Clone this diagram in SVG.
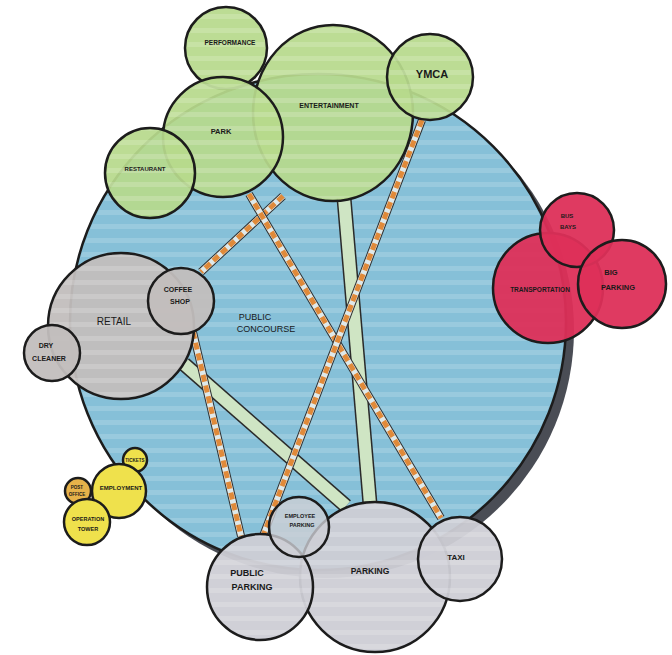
<svg xmlns="http://www.w3.org/2000/svg" width="672" height="655" viewBox="0 0 672 655">
<defs>
<pattern id="stripes" patternUnits="userSpaceOnUse" width="40" height="14">
<rect x="0" y="0" width="40" height="5" fill="#ffffff" fill-opacity="0.16"/>
</pattern>
</defs>
<style>
.n{stroke:#1c1c1c;stroke-width:2.5}
.blue{fill:#86c0d8}
.green{fill:#b7d98c;fill-opacity:0.93}
.red{fill:#dd2f58;fill-opacity:0.95}
.warm{fill:#c2bebd;fill-opacity:0.95}
.cool{fill:#cdced5;fill-opacity:0.95}
.yel{fill:#efe14c}
.st{fill:url(#stripes);stroke:none}
text{font-family:"Liberation Sans",Arial,sans-serif;fill:#1a1a1a;text-anchor:middle;font-weight:bold}
.band{stroke:#2a2a2a;stroke-width:15;fill:none}
.bandin{stroke:#cfe5c4;stroke-width:12;fill:none}
.dout{stroke:#2f2f2f;stroke-width:8;fill:none}
.din{stroke:#dfe9ea;stroke-width:6;fill:none}
.dash{stroke:#e08a3a;stroke-width:5;stroke-dasharray:7 4;fill:none}
</style>
<rect width="672" height="655" fill="#ffffff"/>

<g id="public-concourse">
<circle cx="326" cy="330" r="248" fill="#4a4d55"/>
<circle cx="318" cy="322" r="248" class="n blue"/>
<circle cx="318" cy="322" r="246" class="st"/>
<text x="255" y="320" font-size="9" font-weight="normal" style="font-weight:normal">PUBLIC</text>
<text x="266" y="332" font-size="9" style="font-weight:normal">CONCOURSE</text>
</g>

<g id="connectors">
<line x1="344" y1="198" x2="370" y2="504" class="band"/>
<line x1="344" y1="198" x2="370" y2="504" class="bandin"/>
<line x1="184" y1="364" x2="346" y2="506" class="band"/>
<line x1="184" y1="364" x2="346" y2="506" class="bandin"/>
<g>
<line x1="283" y1="196" x2="201" y2="272" class="dout"/>
<line x1="283" y1="196" x2="201" y2="272" class="din"/>
<line x1="283" y1="196" x2="201" y2="272" class="dash"/>
</g>
<g>
<line x1="249" y1="194" x2="441" y2="518" class="dout"/>
<line x1="249" y1="194" x2="441" y2="518" class="din"/>
<line x1="249" y1="194" x2="441" y2="518" class="dash"/>
</g>
<g>
<line x1="422" y1="120" x2="263" y2="536" class="dout"/>
<line x1="422" y1="120" x2="263" y2="536" class="din"/>
<line x1="422" y1="120" x2="263" y2="536" class="dash"/>
</g>
<g>
<line x1="193" y1="332" x2="241" y2="536" class="dout"/>
<line x1="193" y1="332" x2="241" y2="536" class="din"/>
<line x1="193" y1="332" x2="241" y2="536" class="dash"/>
</g>
</g>

<g id="entertainment">
<ellipse cx="333" cy="113" rx="80" ry="88" class="n green"/>
<ellipse cx="333" cy="113" rx="78" ry="86" class="st"/>
<text x="329" y="108" font-size="7">ENTERTAINMENT</text>
</g>
<g id="performance">
<circle cx="226" cy="48" r="41" class="n green"/>
<circle cx="226" cy="48" r="39" class="st"/>
<text x="230" y="45" font-size="6.5">PERFORMANCE</text>
</g>
<g id="ymca">
<circle cx="430" cy="77" r="43" class="n green"/>
<circle cx="430" cy="77" r="41" class="st"/>
<text x="432" y="78" font-size="11">YMCA</text>
</g>
<g id="park">
<circle cx="223" cy="137" r="60" class="n green"/>
<circle cx="223" cy="137" r="58" class="st"/>
<text x="221" y="134" font-size="7.5">PARK</text>
</g>
<g id="restaurant">
<circle cx="150" cy="173" r="45" class="n green"/>
<circle cx="150" cy="173" r="43" class="st"/>
<text x="145" y="171" font-size="6">RESTAURANT</text>
</g>

<g id="transportation">
<circle cx="548" cy="288" r="55" class="n red"/>
<text x="540" y="292" font-size="6.5">TRANSPORTATION</text>
</g>
<g id="bus-bays">
<circle cx="577" cy="230" r="37" class="n red"/>
<text x="567" y="218" font-size="6">BUS</text>
<text x="568" y="229" font-size="6">BAYS</text>
</g>
<g id="big-parking">
<circle cx="622" cy="284" r="44" class="n red"/>
<text x="611" y="275" font-size="7.5">BIG</text>
<text x="618" y="290" font-size="7.5">PARKING</text>
</g>

<g id="retail">
<circle cx="121" cy="326" r="73" class="n warm"/>
<circle cx="121" cy="326" r="71" class="st"/>
<text x="114" y="325" font-size="10" style="font-weight:normal">RETAIL</text>
</g>
<g id="coffee-shop">
<circle cx="181" cy="301" r="33" class="n warm"/>
<text x="178" y="292" font-size="7">COFFEE</text>
<text x="180" y="304" font-size="7">SHOP</text>
</g>
<g id="dry-cleaner">
<circle cx="52" cy="353" r="28" class="n warm"/>
<text x="46" y="348" font-size="7">DRY</text>
<text x="49" y="361" font-size="7">CLEANER</text>
</g>

<g id="tickets">
<circle cx="135" cy="460" r="12" class="n yel"/>
<text x="135" y="462" font-size="4.5">TICKETS</text>
</g>
<g id="employment">
<circle cx="119" cy="491" r="27" class="n yel"/>
<text x="121" y="490" font-size="6">EMPLOYMENT</text>
</g>
<g id="post-office">
<circle cx="78" cy="491" r="13" class="n yel" style="fill:#e6b24a"/>
<text x="77" y="489" font-size="4.5">POST</text>
<text x="77" y="496" font-size="4.5">OFFICE</text>
</g>
<g id="operation-tower">
<circle cx="87" cy="522" r="23" class="n yel"/>
<text x="88" y="521" font-size="5.5">OPERATION</text>
<text x="88" y="531" font-size="5.5">TOWER</text>
</g>

<g id="parking">
<circle cx="375" cy="577" r="75" class="n cool"/>
<circle cx="375" cy="577" r="73" class="st"/>
<text x="370" y="574" font-size="8.5">PARKING</text>
</g>
<g id="taxi">
<circle cx="460" cy="559" r="42" class="n cool"/>
<circle cx="460" cy="559" r="40" class="st"/>
<text x="456" y="560" font-size="8">TAXI</text>
</g>
<g id="public-parking">
<circle cx="260" cy="587" r="53" class="n cool"/>
<circle cx="260" cy="587" r="51" class="st"/>
<text x="247" y="576" font-size="9">PUBLIC</text>
<text x="252" y="590" font-size="9">PARKING</text>
</g>
<g id="employee-parking">
<circle cx="299" cy="527" r="30" class="n cool" style="fill-opacity:0.8"/>
<text x="300" y="518" font-size="5.5">EMPLOYEE</text>
<text x="302" y="527" font-size="5.5">PARKING</text>
</g>
</svg>
